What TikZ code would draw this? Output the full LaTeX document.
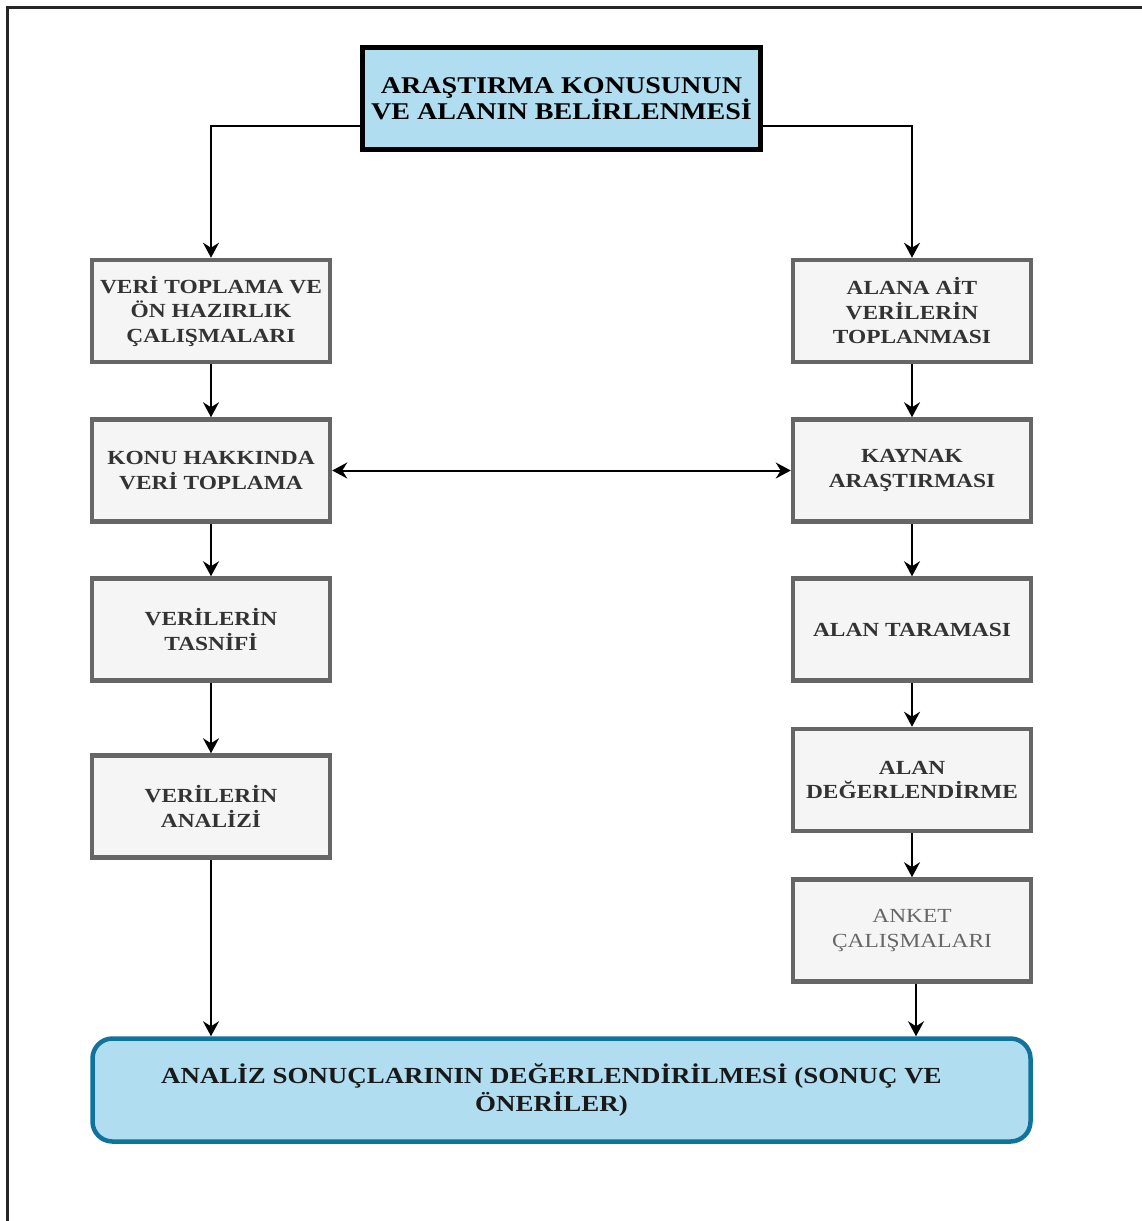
\documentclass[tikz,border=0pt]{standalone}
\usepackage{fontspec}
\setmainfont{Liberation Serif}[FakeStretch=1.17]
\usetikzlibrary{arrows.meta,calc}
\definecolor{gfill}{HTML}{F5F5F5}
\definecolor{gline}{HTML}{666666}
\definecolor{gtext}{HTML}{333333}
\definecolor{bfill}{HTML}{B1DDF0}
\definecolor{bline}{HTML}{10739E}
\tikzset{
  graybox/.style={draw=gline, fill=gfill, line width=4.5pt, inner sep=0pt,
    minimum width=238pt, minimum height=102pt, align=center, text=gtext,
    font=\bfseries\fontsize{20}{24.5}\selectfont},
  topbox/.style={draw=black, fill=bfill, line width=5pt, inner sep=0pt,
    minimum width=398pt, minimum height=102pt, align=center, text=black,
    font=\bfseries\fontsize{24}{26}\selectfont},
  endbox/.style={draw=bline, fill=bfill, line width=4.5pt, inner sep=0pt,
    rounded corners=20pt, minimum width=938pt, minimum height=103pt,
    align=center, text=black!90, font=\bfseries\fontsize{23}{28.5}\selectfont},
  tip/.style={},
  arr/.style={line width=2pt, draw=black, -{Stealth[length=15pt,width=16pt,inset=5pt]}},
  dblarr/.style={line width=2pt, draw=black,
    {Stealth[length=15pt,width=16pt,inset=5pt]}-{Stealth[length=15pt,width=16pt,inset=5pt]}},
  frameline/.style={line width=3pt, draw=black!85}
}
\begin{document}
\begin{tikzpicture}[x=1pt,y=-1pt]
\useasboundingbox (0,0) rectangle (1141,1221);
\draw[frameline] (7,1230) -- (7,7) -- (1150,7);

\node[topbox] (top) at (561.5,98.5) {ARAŞTIRMA KONUSUNUN\\VE ALANIN BELİRLENMESİ};

\node[graybox] (L1) at (211,311) {VERİ TOPLAMA VE\\ÖN HAZIRLIK\\ÇALIŞMALARI};
\node[graybox] (L2) at (211,470.5) {KONU HAKKINDA\\VERİ TOPLAMA};
\node[graybox] (L3) at (211,629.5) {VERİLERİN\\TASNİFİ};
\node[graybox] (L4) at (211,806.5) {VERİLERİN\\ANALİZİ};

\node[graybox] (R1) at (912,311) {ALANA AİT\\VERİLERİN\\TOPLANMASI};
\node[graybox] (R2) at (912,470.5) {KAYNAK\\ARAŞTIRMASI};
\node[graybox] (R3) at (912,629.5) {ALAN TARAMASI};
\node[graybox] (R4) at (912,780) {ALAN\\DEĞERLENDİRME};
\node[graybox, font=\mdseries\fontsize{20}{24.5}\selectfont, text=black!60] (R5) at (912,930.5) {ANKET\\ÇALIŞMALARI};

\node[endbox] (bot) at (561.5,1090) {ANALİZ SONUÇLARININ DEĞERLENDİRİLMESİ (SONUÇ VE\hspace*{20pt}\\ÖNERİLER)\hspace*{20pt}};

\draw[arr] ([yshift=-27.5pt]top.west) -| (L1.north);
\draw[arr] ([yshift=-27.5pt]top.east) -| (R1.north);

\draw[arr] (L1) -- (L2);
\draw[arr] (L2) -- (L3);
\draw[arr] (L3) -- (L4);
\draw[arr] (L4.south) -- (L4.south |- bot.north);

\draw[arr] (R1) -- (R2);
\draw[arr] (R2) -- (R3);
\draw[arr] (R3) -- (R4);
\draw[arr] (R4) -- (R5);
\draw[arr] ([xshift=4pt]R5.south) -- ([xshift=4pt]R5.south |- bot.north);

\draw[dblarr] (L2.east) -- (R2.west);
\end{tikzpicture}
\end{document}
